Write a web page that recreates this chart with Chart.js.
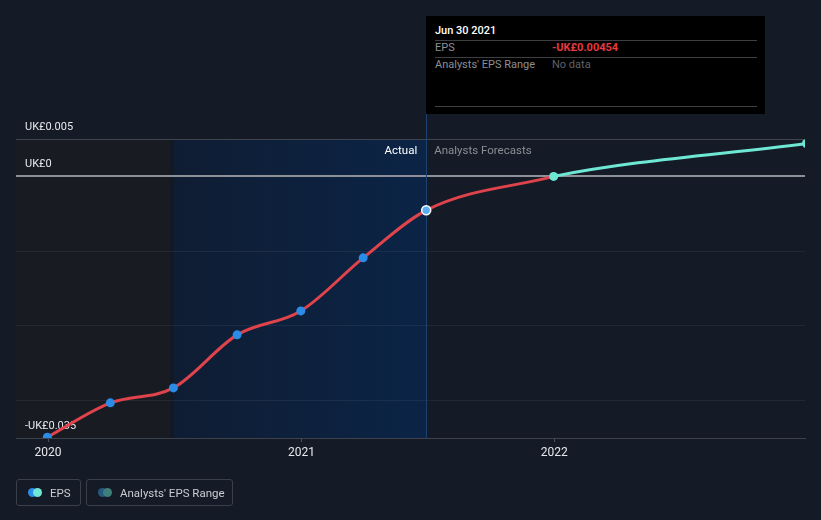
<!DOCTYPE html>
<html>
<head>
<meta charset="utf-8">
<script src="https://cdn.jsdelivr.net/npm/chart.js@4.4.1/dist/chart.umd.min.js"></script>
<style>
  html,body{margin:0;padding:0;background:#151b26;width:821px;height:520px;overflow:hidden;font-family:Roboto,"Noto Sans",sans-serif;}
  #wrap{position:relative;width:821px;height:520px;}
  canvas{position:absolute;left:0;top:0;}
  #tip{position:absolute;left:426px;top:16px;width:339px;height:98px;background:#000;color:#fff;font-size:11px;}
  #tip .sep{position:absolute;left:9px;width:322px;height:1px;background:#3d3f43;}
  #tip .t{position:absolute;white-space:nowrap;line-height:14px;}
  .leg{position:absolute;top:479px;height:27px;border:1px solid #3a3f48;border-radius:3px;box-sizing:border-box;color:#c9ccd1;font-size:11.5px;}
  .leg .d{position:absolute;top:8px;width:9px;height:9px;border-radius:50%;}
  .leg .l{position:absolute;top:6px;line-height:14px;white-space:nowrap;}
</style>
</head>
<body>
<div id="wrap">
<canvas id="c" width="821" height="520"></canvas>
<div id="tip">
  <div class="t" id="tipTitle" style="left:9px;top:8px;font-weight:500;color:#fff;"></div>
  <div class="sep" style="top:24px;"></div>
  <div class="t" id="tipL1" style="left:9px;top:25px;color:#8b8f96;"></div>
  <div class="t" id="tipV1" style="left:126px;top:25px;color:#e5393f;font-weight:700;"></div>
  <div class="sep" style="top:41px;"></div>
  <div class="t" id="tipL2" style="left:9px;top:42px;color:#8b8f96;"></div>
  <div class="t" id="tipV2" style="left:126px;top:42px;color:#5e6269;"></div>
  <div class="sep" style="top:90px;"></div>
</div>
<div class="leg" style="left:16px;width:65px;">
  <div class="d" style="left:11px;background:#2a8ce6;"></div>
  <div class="d" style="left:16px;background:#6ee8d4;"></div>
  <div class="l" id="leg1" style="left:33px;"></div>
</div>
<div class="leg" style="left:86px;width:147px;">
  <div class="d" style="left:11px;background:#25587e;"></div>
  <div class="d" style="left:16px;background:#3f7f79;"></div>
  <div class="l" id="leg2" style="left:33px;"></div>
</div>
</div>
<script>
// ---- data ----
const actualDates = ["2019-12-31","2020-03-31","2020-06-30","2020-09-30","2020-12-31","2021-03-31","2021-06-30"];
const actualEps   = [-0.0349, -0.0303, -0.0283, -0.0212, -0.0180, -0.0109, -0.00454];
const forecastDates = ["2021-06-30","2021-12-31","2022-12-31"];
const forecastEps   = [-0.00454, 0, 0.0044];
const yTickValues = [-0.035, -0.03, -0.02, -0.01, 0, 0.005];
const yTickLabels = ["-UK£0.035", "", "", "", "UK£0", "UK£0.005"];
const xTickYears = [2020, 2021, 2022];
const highlightStart = "2020-06-30";
const splitDate = "2021-06-30";
const tooltipTitle = "Jun 30 2021";
const tooltipRows = [["EPS","-UK£0.00454"],["Analysts' EPS Range","No data"]];
const legendLabels = ["EPS","Analysts' EPS Range"];
const regionLabels = ["Actual","Analysts Forecasts"];

const t = s => Date.parse(s + "T00:00:00Z");
const YEAR = 365.25*86400000;
const xMin = Date.UTC(2020,0,1) - 0.1265*YEAR;
const xMax = xMin + 3.1186*YEAR;

document.getElementById('tipTitle').textContent = tooltipTitle;
document.getElementById('tipL1').textContent = tooltipRows[0][0];
document.getElementById('tipV1').textContent = tooltipRows[0][1];
document.getElementById('tipL2').textContent = tooltipRows[1][0];
document.getElementById('tipV2').textContent = tooltipRows[1][1];
document.getElementById('leg1').textContent = legendLabels[0];
document.getElementById('leg2').textContent = legendLabels[1];

const redData = actualDates.map((d,i)=>({x:t(d), y:actualEps[i]}));
redData.push({x:t(forecastDates[1]), y:forecastEps[1]});
const cyanData = forecastDates.map((d,i)=>({x:t(d), y:forecastEps[i]}));

const bgPlugin = {
  id:'bg',
  beforeDraw(chart){
    const {ctx, chartArea:a, scales:{x}} = chart;
    const hs = x.getPixelForValue(t(highlightStart));
    const sp = x.getPixelForValue(t(splitDate));
    ctx.save();
    ctx.fillStyle = '#181b22';
    ctx.fillRect(a.left, a.top, hs - 3 - a.left, a.bottom - a.top);
    ctx.fillStyle = '#121824';
    ctx.fillRect(hs-3, a.top, 3, a.bottom - a.top);
    const g = ctx.createLinearGradient(hs,0,sp,0);
    g.addColorStop(0,'#0f1d33');
    g.addColorStop(1,'#0b2446');
    ctx.fillStyle = g;
    ctx.fillRect(hs, a.top, sp-hs, a.bottom - a.top);
    ctx.restore();
  },
  beforeDatasetsDraw(chart){
    const {ctx, chartArea:a, scales:{x}} = chart;
    const sp = x.getPixelForValue(t(splitDate));
    ctx.save();
    ctx.strokeStyle = '#1c4273';
    ctx.lineWidth = 1;
    ctx.beginPath(); ctx.moveTo(Math.round(sp)+0.5, 114); ctx.lineTo(Math.round(sp)+0.5, a.bottom); ctx.stroke();
    ctx.font = '11.5px Roboto';
    ctx.textBaseline = 'middle';
    ctx.textAlign = 'right';
    ctx.fillStyle = '#ffffff';
    ctx.fillText(regionLabels[0], sp - 9, a.top + 12);
    ctx.textAlign = 'left';
    ctx.fillStyle = '#8a8e95';
    ctx.fillText(regionLabels[1], sp + 8, a.top + 12);
    ctx.restore();
  }
};

new Chart(document.getElementById('c'), {
  type:'line',
  data:{datasets:[
    {
      data: cyanData,
      borderColor:'#6ee8d4',
      borderWidth:3,
      cubicInterpolationMode:'monotone',
      pointRadius:[0,4.5,4.5],
      pointBackgroundColor:'#6ee8d4',
      pointBorderWidth:0,
      segment:{borderColor: c => c.p0DataIndex===0 ? 'rgba(0,0,0,0)' : '#6ee8d4'}
    },
    {
      data: redData,
      borderColor:'#e0434b',
      borderWidth:3,
      cubicInterpolationMode:'monotone',
      pointRadius:[4.5,4.5,4.5,4.5,4.5,4.5,4.5,0],
      pointBackgroundColor:['#2a8ce6','#2a8ce6','#2a8ce6','#2a8ce6','#2a8ce6','#2a8ce6','#5aaef2','#2a8ce6'],
      pointBorderColor:['#2a8ce6','#2a8ce6','#2a8ce6','#2a8ce6','#2a8ce6','#2a8ce6','#ffffff','#2a8ce6'],
      pointBorderWidth:[0,0,0,0,0,0,1.5,0]
    }
  ]},
  options:{
    responsive:false,
    animation:false,
    events:[],
    layout:{padding:{left:16,right:16,top:139,bottom:52}},
    plugins:{legend:{display:false},tooltip:{enabled:false}},
    scales:{
      x:{
        type:'linear', min:xMin, max:xMax,
        afterBuildTicks: s => { s.ticks = xTickYears.map(y=>({value:Date.UTC(y,0,1)})); },
        afterFit: s => { s.height = 30; },
        ticks:{
          callback: v => String(new Date(v).getUTCFullYear()),
          color:'#e6e8eb', font:{family:'Roboto', size:12}, padding:4, maxRotation:0, autoSkip:false
        },
        grid:{drawOnChartArea:false, drawTicks:true, tickLength:4, color:'#4a4f58'},
        border:{display:true, color:'#3c414a', width:1}
      },
      y:{
        min:-0.035, max:0.005,
        afterBuildTicks: s => { s.ticks = yTickValues.map(v=>({value:v})); },
        afterFit: s => { s.width = 0; },
        ticks:{
          mirror:true, padding:9, labelOffset:-12, autoSkip:false,
          callback: (v, i) => yTickLabels[i],
          color:'#e6e8eb', font:{family:'Roboto', size:11}
        },
        grid:{
          drawTicks:false,
          color: c => { const v = c.tick ? c.tick.value : null;
            if (v === null) return 'rgba(0,0,0,0)';
            if (Math.abs(v) < 1e-9) return '#8d9197';
            if (Math.abs(v-0.005) < 1e-9) return '#40444c';
            if (Math.abs(v+0.035) < 1e-9) return 'rgba(0,0,0,0)';
            return 'rgba(255,255,255,0.06)'; },
          lineWidth: c => (c.tick && Math.abs(c.tick.value) < 1e-9) ? 2 : 1
        },
        border:{display:false}
      }
    }
  },
  plugins:[bgPlugin]
});
</script>
</body>
</html>
